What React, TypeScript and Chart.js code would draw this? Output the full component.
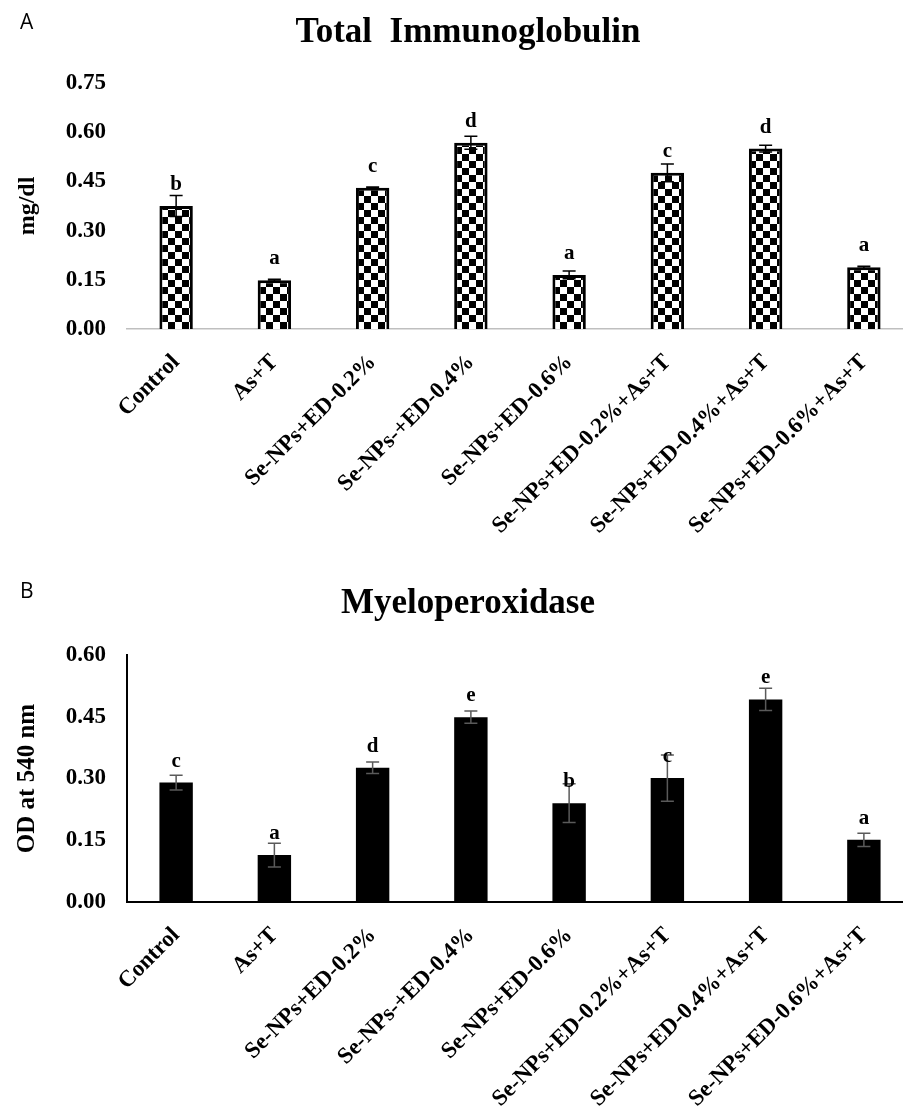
import React, { useEffect, useRef } from "react";
import { Chart, registerables } from "chart.js";

Chart.register(...registerables);

const categories = [
  "Control",
  "As+T",
  "Se-NPs+ED-0.2%",
  "Se-NPs-+ED-0.4%",
  "Se-NPs+ED-0.6%",
  "Se-NPs+ED-0.2%+As+T",
  "Se-NPs+ED-0.4%+As+T",
  "Se-NPs+ED-0.6%+As+T",
];

const igValues = [0.375, 0.149, 0.431, 0.568, 0.165, 0.476, 0.55, 0.188];
const igErrors = [0.032, 0.003, 0.002, 0.02, 0.012, 0.027, 0.01, 0.003];
const igLetters = ["b", "a", "c", "d", "a", "c", "d", "a"];
const igTicks = ["0.00", "0.15", "0.30", "0.45", "0.60", "0.75"];

const mpoValues = [0.29, 0.114, 0.326, 0.449, 0.24, 0.301, 0.492, 0.151];
const mpoErrors = [0.018, 0.029, 0.014, 0.015, 0.047, 0.056, 0.027, 0.016];
const mpoLetters = ["c", "a", "d", "e", "b", "c", "e", "a"];
const mpoTicks = ["0.00", "0.15", "0.30", "0.45", "0.60"];

const SERIF = '"Liberation Serif", "Times New Roman", serif';
const SANS = '"Open Sans", "Liberation Sans", sans-serif';
const CANVAS_W = 915;

function makePattern(): CanvasPattern | string {
  const c = document.createElement("canvas");
  c.width = 14;
  c.height = 14;
  const g = c.getContext("2d");
  if (!g) return "#000";
  g.fillStyle = "#fff";
  g.fillRect(0, 0, 14, 14);
  g.fillStyle = "#000";
  g.fillRect(0, 0, 7, 7);
  g.fillRect(7, 7, 7, 7);
  const p = g.createPattern(c, "repeat");
  return p || "#000";
}

type Panel = {
  panel: string;
  title: string;
  yTitle: string;
  values: number[];
  errors: number[];
  letters: string[];
  ticks: string[];
  max: number;
  height: number;
  areaTop: number;
  areaBottom: number;
  titleBaseline: number;
  panelBaseline: number;
  checker: boolean;
  errColor: string;
  axisColor: string;
  showYAxisLine: boolean;
  yTitleSize: number;
};

function buildChart(canvas: HTMLCanvasElement, p: Panel) {
  const annot = {
    id: "annot" + p.panel,
    afterDatasetsDraw(chart: any) {
      const ctx = chart.ctx;
      const meta = chart.getDatasetMeta(0);
      const y = chart.scales.y;
      ctx.save();
      meta.data.forEach((bar: any, i: number) => {
        const v = p.values[i];
        const e = p.errors[i];
        const x = bar.x;
        const yTop = y.getPixelForValue(v + e);
        const yBot = y.getPixelForValue(v - e);
        ctx.strokeStyle = p.errColor;
        ctx.lineWidth = 1.5;
        ctx.beginPath();
        ctx.moveTo(x, yTop);
        ctx.lineTo(x, yBot);
        ctx.moveTo(x - 6.5, yTop);
        ctx.lineTo(x + 6.5, yTop);
        ctx.moveTo(x - 6.5, yBot);
        ctx.lineTo(x + 6.5, yBot);
        ctx.stroke();
        ctx.fillStyle = "#000";
        ctx.font = "bold 21px " + SERIF;
        ctx.textAlign = "center";
        ctx.textBaseline = "alphabetic";
        ctx.fillText(p.letters[i], x, bar.y - 16);
      });
      ctx.restore();
    },
    afterDraw(chart: any) {
      const ctx = chart.ctx;
      ctx.save();
      ctx.fillStyle = "#000";
      ctx.textBaseline = "alphabetic";
      ctx.textAlign = "center";
      ctx.font = "bold 35px " + SERIF;
      ctx.fillText(p.title, 468, p.titleBaseline);
      ctx.textAlign = "left";
      ctx.font = "21px " + SANS;
      ctx.fillText(p.panel, 20, p.panelBaseline);
      ctx.restore();
    },
  };

  return new Chart(canvas, {
    type: "bar",
    data: {
      labels: categories,
      datasets: [
        {
          data: p.values,
          backgroundColor: p.checker ? makePattern() : "#000",
          borderColor: "#000",
          borderWidth: p.checker ? 3 : 0,
          categoryPercentage: 1,
          barPercentage: 0.34,
        },
      ],
    },
    options: {
      animation: false,
      responsive: false,
      maintainAspectRatio: false,
      devicePixelRatio: 1,
      layout: { padding: { top: p.areaTop, left: 0, right: 2, bottom: 0 } },
      plugins: {
        legend: { display: false },
        title: { display: false },
        tooltip: { enabled: false },
      },
      scales: {
        x: {
          grid: { display: false, drawTicks: false },
          border: { display: true, color: p.axisColor, width: p.checker ? 1.5 : 2 },
          ticks: {
            autoSkip: false,
            minRotation: 45,
            maxRotation: 45,
            padding: 20,
            color: "#000",
            font: { family: SERIF, size: 23, weight: "bold" },
          },
          afterFit(scale: any) {
            scale.height = p.height - p.areaBottom;
          },
        },
        y: {
          min: 0,
          max: p.max,
          grid: { display: false, drawTicks: false },
          border: { display: p.showYAxisLine, color: "#000", width: 2 },
          ticks: {
            stepSize: 0.15,
            padding: 21,
            color: "#000",
            font: { family: SERIF, size: 23, weight: "bold" },
            callback: (_v: any, idx: number) => p.ticks[idx],
          },
          title: {
            display: true,
            text: p.yTitle,
            color: "#000",
            font: { family: SERIF, size: p.yTitleSize, weight: "bold", lineHeight: 1.2 },
            padding: { top: 13, bottom: 0 },
          },
          afterFit(scale: any) {
            scale.width = 127;
          },
        },
      },
    } as any,
    plugins: [annot],
  });
}

const panelA: Panel = {
  panel: "A",
  title: "Total  Immunoglobulin",
  yTitle: "mg/dl",
  values: igValues,
  errors: igErrors,
  letters: igLetters,
  ticks: igTicks,
  max: 0.75,
  height: 565,
  areaTop: 83,
  areaBottom: 329,
  titleBaseline: 42,
  panelBaseline: 29,
  checker: true,
  errColor: "#000",
  axisColor: "#bfbfbf",
  showYAxisLine: false,
  yTitleSize: 24,
};

const B_TOP = 570;
const panelB: Panel = {
  panel: "B",
  title: "Myeloperoxidase",
  yTitle: "OD at 540 nm",
  values: mpoValues,
  errors: mpoErrors,
  letters: mpoLetters,
  ticks: mpoTicks,
  max: 0.6,
  height: 1107 - B_TOP,
  areaTop: 655 - B_TOP,
  areaBottom: 902 - B_TOP,
  titleBaseline: 613 - B_TOP,
  panelBaseline: 598 - B_TOP,
  checker: false,
  errColor: "#5a5a5a",
  axisColor: "#000",
  showYAxisLine: true,
  yTitleSize: 25,
};

export default function App() {
  const refA = useRef<HTMLCanvasElement>(null);
  const refB = useRef<HTMLCanvasElement>(null);

  useEffect(() => {
    const charts: Chart[] = [];
    if (refA.current) charts.push(buildChart(refA.current, panelA));
    if (refB.current) charts.push(buildChart(refB.current, panelB));
    return () => charts.forEach((c) => c.destroy());
  }, []);

  return (
    <div
      style={{
        position: "fixed",
        left: 0,
        top: 0,
        width: 903,
        height: 1107,
        overflow: "hidden",
        background: "#fff",
      }}
    >
      <canvas
        ref={refA}
        width={CANVAS_W}
        height={panelA.height}
        style={{ position: "absolute", left: 0, top: 0, width: CANVAS_W, height: panelA.height }}
      />
      <canvas
        ref={refB}
        width={CANVAS_W}
        height={panelB.height}
        style={{ position: "absolute", left: 0, top: B_TOP, width: CANVAS_W, height: panelB.height }}
      />
    </div>
  );
}
